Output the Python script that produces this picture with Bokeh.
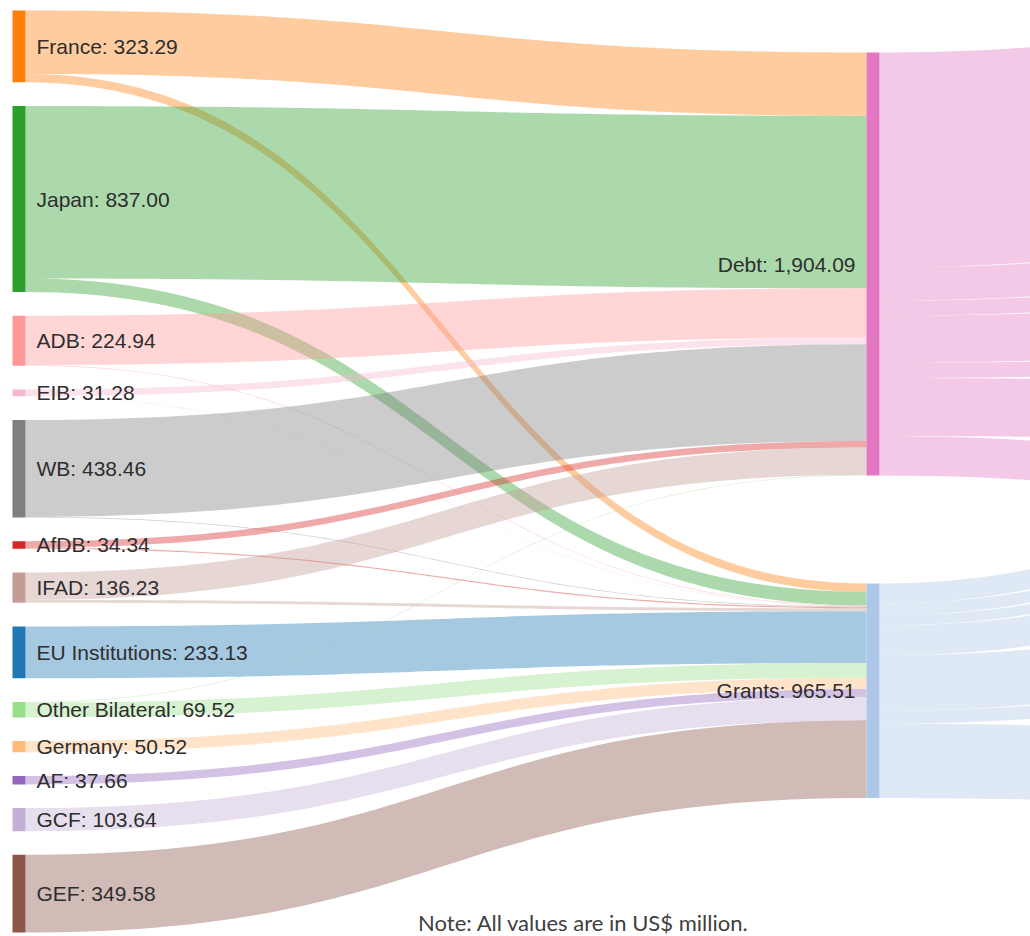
import numpy as np
from bokeh.plotting import figure
from bokeh.models import Range1d
from bokeh.core.properties import value
from bokeh.embed import file_html
from bokeh.resources import INLINE

# ---------------- data ----------------
sources = ["France", "Japan", "ADB", "EIB", "WB", "AfDB", "IFAD",
           "EU Institutions", "Other Bilateral", "Germany", "AF", "GCF", "GEF"]
source_totals = [323.29, 837.00, 224.94, 31.28, 438.46, 34.34, 136.23,
                 233.13, 69.52, 50.52, 37.66, 103.64, 349.58]
# estimated part of each source that goes to Grants (rest goes to Debt)
to_grants = [38.00, 60.96, 3.00, 1.50, 3.00, 5.00, 12.99,
             233.13, 66.52, 50.52, 37.66, 103.64, 349.58]
source_colors = ["#ff7f0e", "#2ca02c", "#ff9896", "#f7b6d2", "#7f7f7f", "#d62728", "#c49c94",
                 "#1f77b4", "#98df8a", "#ffbb78", "#9467bd", "#c5b0d5", "#8c564b"]

targets = ["Debt", "Grants"]
target_totals = [1904.09, 965.51]
target_colors = ["#e377c2", "#aec7e8"]

# onward flows leaving the middle nodes (their targets lie beyond the picture)
debt_out = [968.0, 149.0, 68.0, 212.0, 68.0, 261.0, 178.09]
grants_out = [90.0, 54.0, 45.0, 135.0, 248.0, 59.0, 334.51]

note = "Note: All values are in US$ million."

# ---------------- layout constants ----------------
K = 0.2222            # px per US$ million
NODE_W = 13
LEFT_X0 = 12
MID_X0 = 866
RIGHT_X0 = 1720
TOP, BOTTOM = 10, 932
MID_TOPS = [52, 583]
debt_shift = [-105, -85, -65, -45, -25, 15, 90]
grants_shift = [-285, -255, -225, -195, -120, -95, 30]
LINK_ALPHA = 0.4


def band(x0, x1, y0t, y1t, w, n=80):
    t = np.linspace(0, 1, n)
    xm = (x0 + x1) / 2.0
    bx = (1 - t) ** 3 * x0 + 3 * (1 - t) ** 2 * t * xm + 3 * (1 - t) * t ** 2 * xm + t ** 3 * x1
    s = 3 * t ** 2 - 2 * t ** 3
    top = y0t + (y1t - y0t) * s
    bot = top + w
    xs = np.concatenate([bx, bx[::-1]]).tolist()
    ys = np.concatenate([top, bot[::-1]]).tolist()
    return xs, ys


flows = [[tot - g, g] for tot, g in zip(source_totals, to_grants)]

# left node positions
heights = [sum(f) * K for f in flows]
gap = (BOTTOM - TOP - sum(heights)) / (len(sources) - 1)
left_tops = []
y = TOP
for h in heights:
    left_tops.append(y)
    y += h + gap

mid_heights = [sum(f[j] for f in flows) * K for j in range(2)]

p = figure(width=1030, height=936, x_range=Range1d(0, 1030), y_range=Range1d(936, 0),
           toolbar_location=None, output_backend="svg",
           x_axis_location=None, y_axis_location=None, min_border=0)
p.grid.visible = False
p.outline_line_color = None
p.background_fill_color = "white"
p.border_fill_color = "white"

xs_all, ys_all, cols = [], [], []

# outgoing flows from middle nodes
for j, (vals, shifts) in enumerate([(debt_out, debt_shift), (grants_out, grants_shift)]):
    cur = MID_TOPS[j]
    for v, sh in zip(vals, shifts):
        w = v * K
        xs, ys = band(MID_X0 + NODE_W, RIGHT_X0, cur, cur + sh, w)
        xs_all.append(xs); ys_all.append(ys); cols.append(target_colors[j])
        cur += w

# links from sources to Debt / Grants
src_cur = list(left_tops)
tgt_cur = list(MID_TOPS)
for i, f in enumerate(flows):
    for j in range(2):
        v = f[j]
        if v <= 0:
            continue
        w = v * K
        xs, ys = band(LEFT_X0 + NODE_W, MID_X0, src_cur[i], tgt_cur[j], w)
        xs_all.append(xs); ys_all.append(ys); cols.append(source_colors[i])
        src_cur[i] += w
        tgt_cur[j] += w

p.patches(xs=xs_all, ys=ys_all, fill_color=cols, fill_alpha=LINK_ALPHA, line_color=None)

# nodes
p.quad(left=[LEFT_X0] * len(sources), right=[LEFT_X0 + NODE_W] * len(sources),
       top=left_tops, bottom=[t + h for t, h in zip(left_tops, heights)],
       fill_color=source_colors, line_color=None)
p.quad(left=[MID_X0] * 2, right=[MID_X0 + NODE_W] * 2,
       top=MID_TOPS, bottom=[t + h for t, h in zip(MID_TOPS, mid_heights)],
       fill_color=target_colors, line_color=None)

# labels
p.text(x=[LEFT_X0 + NODE_W + 11] * len(sources),
       y=[t + h / 2 for t, h in zip(left_tops, heights)],
       text=[f"{n}: {v:,.2f}" for n, v in zip(sources, source_totals)],
       text_align="left", text_baseline="middle",
       text_font=value("Liberation Sans"), text_font_size="21px", text_color="#2e2e2e")
p.text(x=[MID_X0 - 11] * 2,
       y=[t + h / 2 for t, h in zip(MID_TOPS, mid_heights)],
       text=[f"{n}: {v:,.2f}" for n, v in zip(targets, target_totals)],
       text_align="right", text_baseline="middle",
       text_font=value("Liberation Sans"), text_font_size="21px", text_color="#2e2e2e")

p.text(x=[583], y=[922], text=[note], text_align="center", text_baseline="middle",
       text_font=value("Lato"), text_font_size="22px", text_color="#404040")

open("out.html", "w").write(file_html(p, INLINE))
